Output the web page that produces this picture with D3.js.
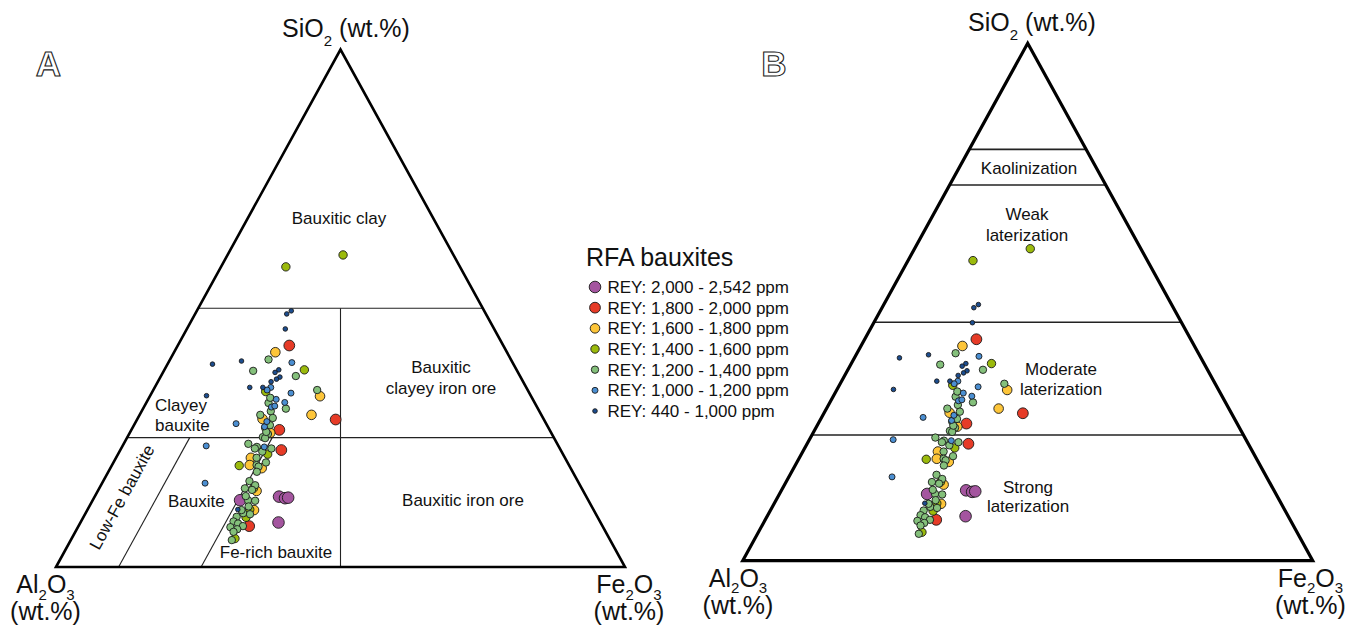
<!DOCTYPE html>
<html>
<head>
<meta charset="utf-8">
<script src="https://cdn.jsdelivr.net/npm/d3@7"></script>
<style>
  body { margin: 0; background: #fff; }
  svg { display: block; font-family: "Liberation Sans", Arial, sans-serif; }
</style>
</head>
<body>
<div id="chart"></div>
<script>
// each sample as [SiO2, Fe2O3] in wt.% (Al2O3 is the rest)
const rey2000 = [[12.9,25.9],[13.6,32.4],[13.3,33.6],[13.4,34.1],[8.6,34.8]];
const rey1800 = [[42.8,19.6],[28.5,34.9],[26.5,26.0],[22.6,28.3],[7.9,30.0]];
const rey1600 = [[41.5,17.8],[33.0,29.9],[29.4,30.2],[28.6,22.0],[25.9,24.7],[21.1,23.7],
                 [19.7,24.2],[19.1,26.6],[14.7,27.9],[11.0,29.3]];
const rey1400 = [[60.3,20.3],[58.0,11.4],[38.1,24.6],[33.9,19.9],[21.8,26.3],[19.6,22.4],
                 [15.2,27.1],[11.1,28.5],[9.6,28.6],[5.5,28.7]];
const rey1200 = [[40.1,17.3],[37.9,15.7],[36.9,23.7],[34.2,28.8],[30.6,25.1],[29.4,21.2],
                 [31.7,21.5],[30.1,22.7],[26.9,23.3],[25.7,24.4],[25.1,23.8],[27.4,23.9],
                 [23.8,21.9],[23.2,23.7],[22.9,26.4],[22.3,25.1],[21.1,24.7],[20.2,26.8],
                 [19.7,25.4],[16.6,25.7],[15.8,27.1],[15.2,25.6],[14.9,27.0],[12.9,27.3],
                 [12.8,28.6],[11.7,28.0],[10.4,27.7],[9.7,26.9],[10.2,29.0],[8.8,26.8],
                 [8.4,27.8],[7.9,28.9],[7.7,26.8],[7.3,28.2],[5.2,28.3],[32.7,21.3],
                 [28.8,23.7],[24.9,24.3],[13.7,26.5],[22.9,23.5],[26.1,23.9],[19.4,25.9],
                 [18.4,26.1],[11.0,27.1],[6.8,27.8]];
const rey1000 = [[39.5,21.7],[34.7,20.4],[33.6,24.5],[32.4,22.5],[31.8,24.3],[30.9,22.4],
                 [27.7,17.8],[27.1,23.1],[23.4,14.7],[23.2,25.0],[16.2,18.1],[34.2,20.0],
                 [31.1,22.9],[28.1,23.0]];
const rey440 = [[49.5,16.6],[48.9,16.1],[46.0,17.3],[39.8,12.7],[39.2,7.9],[38.1,20.1],
                [37.6,19.7],[36.7,21.0],[36.3,20.6],[34.7,16.7],[34.7,19.0],[33.1,9.9],
                [11.1,26.4],[35.8,19.9]];

const legendLabels = ["REY: 2,000 - 2,542 ppm", "REY: 1,800 - 2,000 ppm", "REY: 1,600 - 1,800 ppm",
                      "REY: 1,400 - 1,600 ppm", "REY: 1,200 - 1,400 ppm", "REY: 1,000 - 1,200 ppm",
                      "REY: 440 - 1,000 ppm"];

// class boundaries, as [SiO2, Fe2O3] end points
const bardossyLines = [
  [[50, 0], [50, 50]],
  [[25, 0], [25, 75]],
  [[50, 25], [0, 50]],
  [[25, 11], [0, 11]],
  [[25, 25.5], [0, 25.5]]
];
// SiO2 levels of the lateritization lines
const schellmannLevels = [79.5, 72.6, 46.1, 24.3];

const classes = [
  {data: rey2000, color: "#a4559f", r: 5.8},
  {data: rey1800, color: "#e63b27", r: 5.4},
  {data: rey1600, color: "#fdc539", r: 4.8},
  {data: rey1400, color: "#9bba0c", r: 4.2},
  {data: rey1200, color: "#84c07b", r: 3.7},
  {data: rey1000, color: "#4b8fd2", r: 3.0},
  {data: rey440,  color: "#1c4d8f", r: 2.3}
];
classes.forEach((c, i) => c.label = legendLabels[i]);

const W = 1346, H = 627;
const svg = d3.select("#chart").append("svg")
  .attr("width", W).attr("height", H);

function formula(g, parts, x, y, size, shift) {
  const t = g.append("text")
    .attr("x", x).attr("y", y)
    .attr("font-size", size)
    .attr("text-anchor", "middle")
    .attr("fill", "#111");
  let down = false;
  parts.forEach(p => {
    const sub = p.startsWith("_");
    const ts = t.append("tspan").text(sub ? p.slice(1) : p);
    if (sub) { ts.attr("font-size", size * 0.6).attr("dy", shift); down = true; }
    else if (down) { ts.attr("dy", -shift); down = false; }
  });
  return t;
}

function label(g, lines, x, y, anchor, step) {
  lines.forEach((s, i) => {
    g.append("text")
      .attr("x", x).attr("y", y + i * step)
      .attr("text-anchor", anchor)
      .attr("font-size", 17)
      .attr("fill", "#111")
      .text(s);
  });
}

function drawPanel(p) {
  const g = svg.append("g");
  const y = d3.scaleLinear().domain([0, 100]).range([p.base, p.top]);
  const x = d3.scaleLinear().domain([0, 100]).range([p.left, p.right]);
  const proj = d => [x(d[1] + d[0] / 2), y(d[0])];
  const line = d3.line().x(d => proj(d)[0]).y(d => proj(d)[1]);

  // inner class lines
  g.selectAll("path.bound")
    .data(p.lines)
    .join("path")
      .attr("class", "bound")
      .attr("d", line)
      .attr("fill", "none")
      .attr("stroke", "#222")
      .attr("stroke-width", p.innerWidth);

  // outline
  g.append("path")
    .attr("d", line([[0, 0], [100, 0], [0, 100]]) + "Z")
    .attr("fill", "none")
    .attr("stroke", "#000")
    .attr("stroke-width", p.outerWidth)
    .attr("stroke-linejoin", "miter");

  p.labels(g);

  // samples, biggest first
  classes.forEach(c => {
    g.append("g").selectAll("circle")
      .data(c.data)
      .join("circle")
        .attr("cx", d => proj(d)[0])
        .attr("cy", d => proj(d)[1])
        .attr("r", c.r)
        .attr("fill", c.color)
        .attr("stroke", "#1a1a1a")
        .attr("stroke-width", 0.9);
  });

  // corner names
  formula(g, ["SiO", "_2", " (wt.%)"], p.titleX, p.top - 12.5, 25, 9);
  formula(g, ["Al", "_2", "O", "_3"], p.alX, p.base + 26, 25, 6.5);
  g.append("text").attr("x", p.alX).attr("y", p.base + 53)
    .attr("text-anchor", "middle").attr("font-size", 25).attr("fill", "#111").text("(wt.%)");
  formula(g, ["Fe", "_2", "O", "_3"], p.feX, p.base + 26, 25, 6.5);
  g.append("text").attr("x", p.feX).attr("y", p.base + 53)
    .attr("text-anchor", "middle").attr("font-size", 25).attr("fill", "#111").text("(wt.%)");

  // panel letter
  g.append("text")
    .attr("x", p.letterX).attr("y", 76)
    .attr("text-anchor", "middle")
    .attr("font-size", 35)
    .attr("font-weight", "bold")
    .attr("fill", "#fff")
    .attr("stroke", "#222")
    .attr("stroke-width", 1.1)
    .text(p.id);
}

drawPanel({
  id: "A", left: 56, right: 625, base: 567, top: 49.5,
  titleX: 346, letterX: 48.5, alX: 45.5, feX: 629, innerWidth: 1.1, outerWidth: 2.6,
  lines: bardossyLines,
  labels: g => {
    label(g, ["Bauxitic clay"], 339, 224, "middle", 0);
    label(g, ["Clayey", "bauxite"], 155, 411, "start", 20);
    label(g, ["Bauxitic", "clayey iron ore"], 441, 373, "middle", 21);
    label(g, ["Bauxite"], 168, 507, "start", 0);
    label(g, ["Bauxitic iron ore"], 463, 506, "middle", 0);
    label(g, ["Fe-rich bauxite"], 276, 558, "middle", 0);
    g.append("text")
      .attr("transform", "translate(127,500) rotate(-61.2)")
      .attr("text-anchor", "middle")
      .attr("font-size", 17)
      .attr("fill", "#111")
      .text("Low-Fe bauxite");
  }
});

drawPanel({
  id: "B", left: 742.7, right: 1312.7, base: 560.7, top: 43.3,
  titleX: 1032, letterX: 774, alX: 738, feX: 1310.5, innerWidth: 1.6, outerWidth: 3.2,
  lines: schellmannLevels.map(s => [[s, 0], [s, 100 - s]]),
  labels: g => {
    label(g, ["Kaolinization"], 1029, 173.5, "middle", 0);
    label(g, ["Weak", "laterization"], 1027, 220, "middle", 20.7);
    label(g, ["Moderate", "laterization"], 1061, 375, "middle", 20);
    label(g, ["Strong", "laterization"], 1028, 492.7, "middle", 19);
  }
});

// legend
const legend = svg.append("g");
legend.append("text")
  .attr("x", 586).attr("y", 266)
  .attr("font-size", 25)
  .attr("fill", "#111")
  .text("RFA bauxites");

const row = d3.scalePoint().domain(d3.range(classes.length)).range([287, 411]);
const item = legend.selectAll("g.item")
  .data(classes)
  .join("g")
    .attr("class", "item")
    .attr("transform", (d, i) => `translate(0,${row(i)})`);
item.append("circle")
  .attr("cx", 595).attr("cy", 0)
  .attr("r", d => d.r)
  .attr("fill", d => d.color)
  .attr("stroke", "#1a1a1a")
  .attr("stroke-width", 0.9);
item.append("text")
  .attr("x", 607.5).attr("y", 6)
  .attr("font-size", 17)
  .attr("fill", "#111")
  .text(d => d.label);
</script>
</body>
</html>
